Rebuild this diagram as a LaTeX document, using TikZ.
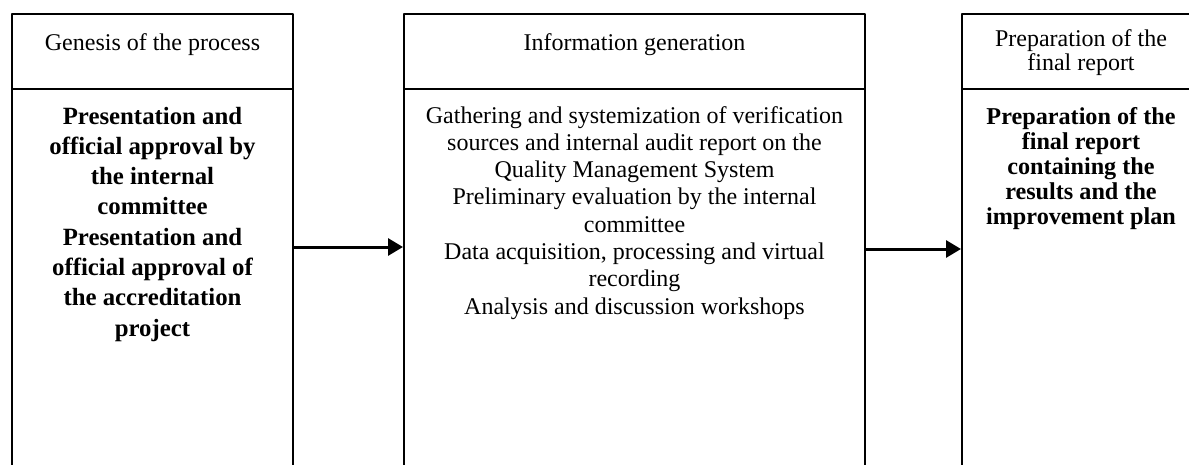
\documentclass[tikz,border=0pt]{standalone}
\usepackage{fontspec}
\setmainfont{Liberation Serif}
\usetikzlibrary{arrows.meta}

\begin{document}
\begin{tikzpicture}[x=1pt, y=-1pt, line join=round,
		font=\fontsize{24}{24.5}\selectfont,
		cell/.style={draw, line width=2pt, inner sep=0pt, anchor=north west},
		flow/.style={-{Triangle[length=15pt,width=17pt]}, line width=3pt}]
	\useasboundingbox (0,0) rectangle (1189,464);
	\clip (0,0) rectangle (1189,464);
	% header row
	\node[cell] (genH) at (11,13) {\begin{minipage}[t][75pt][t]{281pt}\centering
			\rule{0pt}{36pt}Genesis of the process\end{minipage}};
	\node[cell] (infH) at (403,13) {\begin{minipage}[t][75pt][t]{461pt}\centering
			\rule{0pt}{36pt}Information generation\end{minipage}};
	\node[cell] (repH) at (961,13) {\begin{minipage}[t][75pt][t]{238pt}\centering
			\rule{0pt}{32pt}Preparation of the\\ final report\end{minipage}};
	% body row
	\node[cell] (genB) at (11,88) {\begin{minipage}[t][392pt][t]{281pt}\centering
			\fontsize{24.8}{30.3}\selectfont\bfseries
			\rule{0pt}{35pt}Presentation and\\ official approval by\\ the internal\\ committee\\
			Presentation and\\ official approval of\\ the accreditation\\ project\end{minipage}};
	\node[cell] (infB) at (403,88) {\begin{minipage}[t][392pt][t]{461pt}\centering
			\fontsize{24}{27.3}\selectfont
			\rule{0pt}{34pt}Gathering and systemization of verification\\
			sources and internal audit report on the\\ Quality Management System\\
			Preliminary evaluation by the internal\\ committee\\
			Data acquisition, processing and virtual\\ recording\\
			Analysis and discussion workshops\end{minipage}};
	\node[cell] (repB) at (961,88) {\begin{minipage}[t][392pt][t]{238pt}\centering
			\fontsize{24.2}{25}\selectfont\bfseries
			\rule{0pt}{35pt}Preparation of the\\ final report\\ containing the\\
			results and the\\ improvement plan\end{minipage}};
	% connectors
	\coordinate (lvlA) at (0,247);
	\coordinate (lvlB) at (0,249);
	\draw[flow] (genB.east |- lvlA) -- (infB.west |- lvlA);
	\draw[flow] (infB.east |- lvlB) -- (repB.west |- lvlB);
\end{tikzpicture}
\end{document}
